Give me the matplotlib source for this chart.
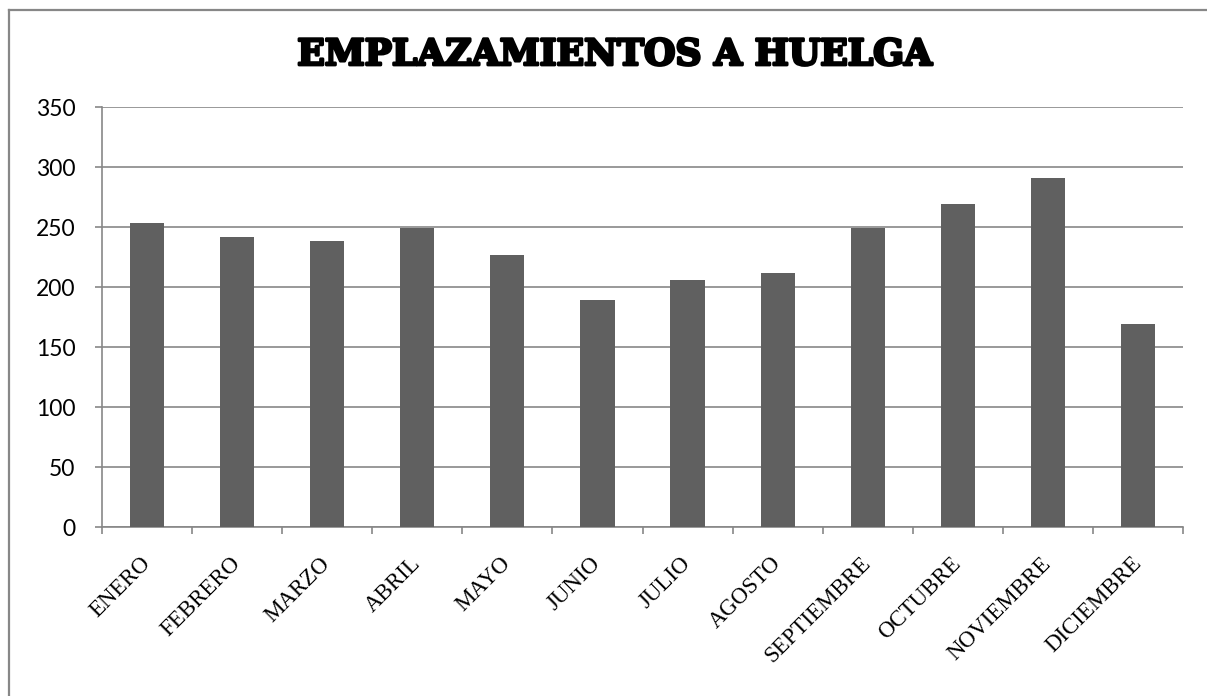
import matplotlib
matplotlib.use("Agg")
import matplotlib.pyplot as plt
import matplotlib.patheffects as pe
from matplotlib.lines import Line2D
import numpy as np

months = ["ENERO", "FEBRERO", "MARZO", "ABRIL", "MAYO", "JUNIO", "JULIO",
          "AGOSTO", "SEPTIEMBRE", "OCTUBRE", "NOVIEMBRE", "DICIEMBRE"]
values = [253, 242, 238, 249, 227, 189, 206, 212, 249, 269, 291, 169]
yticks = [0, 50, 100, 150, 200, 250, 300, 350]
title = "EMPLAZAMIENTOS A HUELGA"

W, H = 1207, 696
fig = plt.figure(figsize=(W / 100, H / 100), dpi=100)
fig.patch.set_facecolor("white")

left, right, bottom, top = 102, 1183, 527, 107
ax = fig.add_axes([left / W, 1 - bottom / H, (right - left) / W, (bottom - top) / H])

grid_c = "#878787"
x = np.arange(len(months))
ax.bar(x, values, width=0.38, color="#606060", zorder=3)
ax.set_xlim(-0.5, len(months) - 0.5)
ax.set_ylim(0, 350)
ax.set_yticks(yticks)
ax.set_yticklabels([str(v) for v in yticks], fontfamily="Lato", fontsize=16.5)
ax.yaxis.grid(True, color=grid_c, linewidth=1.2, zorder=0)
ax.set_axisbelow(True)

ax.set_xticks(np.arange(-0.5, len(months), 1.0))
ax.set_xticklabels([])
ax.set_xticks(x, minor=True)
ax.set_xticklabels(months, minor=True, rotation=45, ha="right", va="center",
                   rotation_mode="anchor", fontfamily="Liberation Serif", fontsize=16.5)
ax.tick_params(axis="x", which="major", length=5, color=grid_c, width=1.2, direction="out")
ax.tick_params(axis="x", which="minor", length=0, pad=24)
ax.tick_params(axis="y", length=5, color=grid_c, width=1.2, pad=14)

for s in ["top", "right"]:
    ax.spines[s].set_visible(False)
for s in ["left", "bottom"]:
    ax.spines[s].set_color(grid_c)
    ax.spines[s].set_linewidth(1.2)

fig.text(615 / W, 1 - 55 / H, title, ha="center", va="center",
         fontfamily="DejaVu Serif", fontweight="bold", fontsize=26,
         path_effects=[pe.withStroke(linewidth=2, foreground="black")])

# outer chart border (only top and left visible)
fig.add_artist(Line2D([8.5 / W, 8.5 / W], [0, 1 - 9.5 / H], transform=fig.transFigure,
                      color=grid_c, linewidth=1.6))
fig.add_artist(Line2D([8.5 / W, 1], [1 - 9.5 / H, 1 - 9.5 / H], transform=fig.transFigure,
                      color=grid_c, linewidth=1.6))

fig.savefig("out.png", dpi=100, facecolor="white")
